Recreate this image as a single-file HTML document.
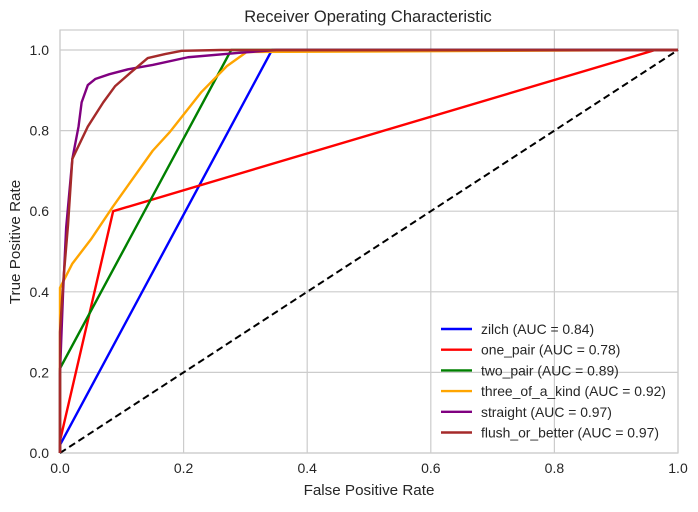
<!DOCTYPE html>
<html><head><meta charset="utf-8"><style>
body{margin:0;background:#fff;font-family:"Liberation Sans",sans-serif}
svg text{font-family:"Liberation Sans",sans-serif;fill:#262626}
</style></head><body>
<svg width="698" height="507" viewBox="0 0 698 507">
<text x="368" y="22" font-size="16.5" text-anchor="middle">Receiver Operating Characteristic</text>
<g id="grid"></g>
<rect x="60" y="30" width="618" height="423" fill="none" stroke="#cccccc" stroke-width="1.2"/>
<g id="ticks"></g>
<text x="369" y="495" font-size="15.2" text-anchor="middle">False Positive Rate</text>
<text transform="translate(20,242) rotate(-90)" font-size="15.2" text-anchor="middle">True Positive Rate</text>
<g id="series"></g>
<g id="legend"></g>
</svg>
<script>
const seriesNames=["zilch","one_pair","two_pair","three_of_a_kind","straight","flush_or_better"];
const aucValues=[0.84,0.78,0.89,0.92,0.97,0.97];
const colors=["#0000ff","#ff0000","#008000","#ffa500","#800080","#a52a2a"];
const tickLabels=["0.0","0.2","0.4","0.6","0.8","1.0"];
const tickValues=[0,0.2,0.4,0.6,0.8,1.0];
const zilchFpr=[0,0,0.343,1];
const zilchTpr=[0,0.02,1,1];
const onePairFpr=[0,0,0.086,0.963,1];
const onePairTpr=[0,0.03,0.60,1,1];
const twoPairFpr=[0,0,0.277,1];
const twoPairTpr=[0,0.21,1,1];
const threeFpr=[0,0,0.02,0.05,0.085,0.15,0.178,0.229,0.27,0.302,1];
const threeTpr=[0,0.41,0.47,0.53,0.61,0.75,0.797,0.896,0.96,0.995,1];
const straightFpr=[0,0,0.005,0.01,0.02,0.03,0.035,0.045,0.057,0.08,0.11,0.15,0.207,0.29,0.35,1];
const straightTpr=[0,0.2,0.4,0.56,0.73,0.81,0.87,0.913,0.928,0.94,0.952,0.963,0.982,0.993,1,1];
const flushFpr=[0,0,0.005,0.013,0.02,0.045,0.07,0.089,0.115,0.142,0.17,0.197,0.26,1];
const flushTpr=[0,0.3,0.42,0.566,0.73,0.81,0.87,0.91,0.945,0.98,0.99,0.998,1,1];
const allFpr=[zilchFpr,onePairFpr,twoPairFpr,threeFpr,straightFpr,flushFpr];
const allTpr=[zilchTpr,onePairTpr,twoPairTpr,threeTpr,straightTpr,flushTpr];
const NS="http://www.w3.org/2000/svg";
const X=v=>60+v*618, Y=v=>453-v*403;
function mk(t,a,p){const e=document.createElementNS(NS,t);for(const k in a)e.setAttribute(k,a[k]);p.appendChild(e);return e;}
const grid=document.getElementById('grid'),ticks=document.getElementById('ticks');
tickValues.forEach((v,i)=>{
 const gx=mk('line',{x1:X(v),x2:X(v),y1:30,y2:453,stroke:'#cccccc','stroke-width':1.2},grid);
 
 
 const gy=mk('line',{x1:60,x2:678,y1:Y(v),y2:Y(v),stroke:'#cccccc','stroke-width':1.2},grid);
 
 
 const tx=mk('text',{x:X(v),y:473,'font-size':14,'text-anchor':'middle'},ticks);tx.textContent=tickLabels[i];
 
 
 const ty=mk('text',{x:49,y:Y(v)+5,'font-size':14,'text-anchor':'end'},ticks);ty.textContent=tickLabels[i];
 
 
});
const ser=document.getElementById('series');
const diag=mk('line',{x1:X(0),y1:Y(0),x2:X(1),y2:Y(1),stroke:'#000','stroke-width':2,'stroke-dasharray':'7,4'},ser);


seriesNames.forEach((n,i)=>{
 const pts=allFpr[i].map((f,j)=>X(f)+','+Y(allTpr[i][j])).join(' ');
 const p=mk('polyline',{points:pts,fill:'none',stroke:colors[i],'stroke-width':2.4,'stroke-linejoin':'round'},ser);
 
 
});
const leg=document.getElementById('legend');
seriesNames.forEach((n,i)=>{
 const y=329+i*20.7;
 const g=mk('g',{},leg);
 
 
 mk('line',{x1:441,x2:472,y1:y,y2:y,stroke:colors[i],'stroke-width':2.4},g);
 const t=mk('text',{x:481,y:y+5,'font-size':13.9},g);
 t.textContent=n+' (AUC = '+aucValues[i].toFixed(2)+')';
});
</script>
</body></html>
